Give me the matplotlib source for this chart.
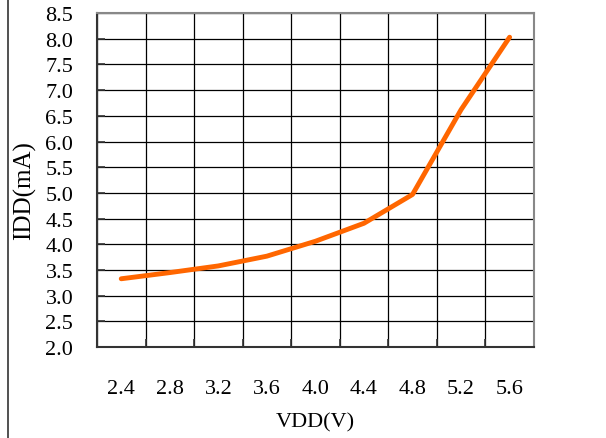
import matplotlib
matplotlib.use('Agg')
import matplotlib.pyplot as plt
from matplotlib.lines import Line2D

# данные
vdd = [2.4, 2.8, 3.2, 3.6, 4.0, 4.4, 4.8, 5.2, 5.6]
idd = [3.33, 3.45, 3.58, 3.77, 4.06, 4.41, 4.97, 6.62, 8.03]
grid_x = [2.2, 2.6, 3.0, 3.4, 3.8, 4.2, 4.6, 5.0, 5.4, 5.8]
y_ticks = [2.0, 2.5, 3.0, 3.5, 4.0, 4.5, 5.0, 5.5, 6.0, 6.5, 7.0, 7.5, 8.0, 8.5]
x_labels = ['2.4', '2.8', '3.2', '3.6', '4.0', '4.4', '4.8', '5.2', '5.6']

plt.rcParams['font.family'] = ['Liberation Serif', 'DejaVu Serif']

fig = plt.figure(figsize=(6.06, 4.39), dpi=100)
ax = fig.add_axes([0.160, 0.207, 0.721, 0.761])

ax.plot(vdd, idd, color='#FF6600', linewidth=3.5, solid_capstyle='round', zorder=3)

ax.set_xlim(2.2, 5.8)
ax.set_ylim(2.0, 8.5)

ax.set_xticks(grid_x)
ax.set_xticklabels([])
ax.set_xticks(vdd, minor=True)
ax.set_xticklabels(x_labels, minor=True, fontsize=16)
ax.tick_params(axis='x', which='major', direction='in', length=6, width=1.2, color='#333333')
ax.tick_params(axis='x', which='minor', length=0, pad=23)

ax.set_yticks(y_ticks)
ax.set_yticklabels([f'{v:.1f}' for v in y_ticks], fontsize=16)
ax.tick_params(axis='y', direction='in', length=6, width=1.2, color='#333333', pad=17)

ax.grid(True, which='major', color='black', linewidth=0.9)
ax.set_axisbelow(True)

for side in ['top', 'right']:
    ax.spines[side].set_color('#888888')
    ax.spines[side].set_linewidth(1.5)
for side in ['bottom', 'left']:
    ax.spines[side].set_color('#333333')
    ax.spines[side].set_linewidth(1.5)

fig.text(0.521, 0.036, 'VDD(V)', ha='center', va='center', fontsize=16)
fig.text(0.041, 0.567, 'IDD(mA)', ha='center', va='center', rotation=90, fontsize=18)

# рамка слева
fig.add_artist(Line2D([0.014, 0.014], [0, 1], transform=fig.transFigure, color='#333333', linewidth=1.2))

fig.savefig('out.png', dpi=100)
